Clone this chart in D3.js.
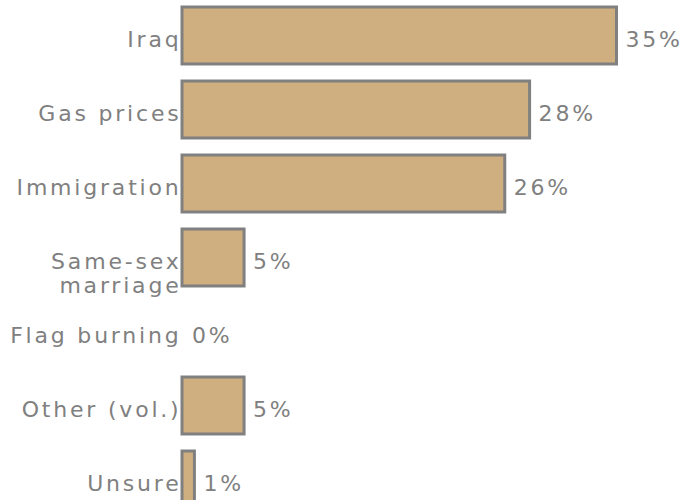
<!DOCTYPE html>
<html>
<head>
<meta charset="utf-8">
<script src="https://cdn.jsdelivr.net/npm/d3@7"></script>
<style>
  body { margin: 0; background: #fff; }
  svg text { font-family: "DejaVu Sans", sans-serif; font-size: 22px; fill: #808080; letter-spacing: 2.8px; }
</style>
</head>
<body>
<div id="chart"></div>
<script>
const categories = ["Iraq", "Gas prices", "Immigration", "Same-sex\nmarriage", "Flag burning", "Other (vol.)", "Unsure"];
const values = [35, 28, 26, 5, 0, 5, 1];

const w = 688;
const h = 500;
const data = categories.map((c, i) => ({ cat: c, val: values[i] }));

const svg = d3.select("#chart").append("svg").attr("width", w).attr("height", h);

const x = d3.scaleLinear().domain([0, 35]).range([182, 616.5]);
const y = d3.scaleBand().domain(categories).range([-1.5, 516.5]).paddingInner(0.23).paddingOuter(0.115);

const rows = svg.selectAll("g.row").data(data).enter().append("g").attr("class", "row");

rows
  .filter((d) => d.val > 0)
  .append("rect")
  .attr("x", x(0))
  .attr("y", (d) => y(d.cat))
  .attr("width", (d) => x(d.val) - x(0))
  .attr("height", y.bandwidth())
  .attr("fill", "#cfae7f")
  .attr("stroke", "#808080")
  .attr("stroke-width", 3);

// labels: first line sits on the row, extra lines flow below
rows.each(function (d) {
  const lines = d.cat.split("\n");
  const cy = y(d.cat) + y.bandwidth() / 2;
  const t = d3
    .select(this)
    .append("text")
    .attr("text-anchor", "end")
    .attr("y", cy + 11);
  lines.forEach((l, i) => {
    t.append("tspan").attr("x", 181.5).attr("dy", i === 0 ? 0 : 24).text(l);
  });
});

rows
  .append("text")
  .attr("x", (d) => x(d.val) + (d.val > 0 ? 9 : 10))
  .attr("y", (d) => y(d.cat) + y.bandwidth() / 2 + 11)
  .text((d) => d.val + "%");
</script>
</body>
</html>
